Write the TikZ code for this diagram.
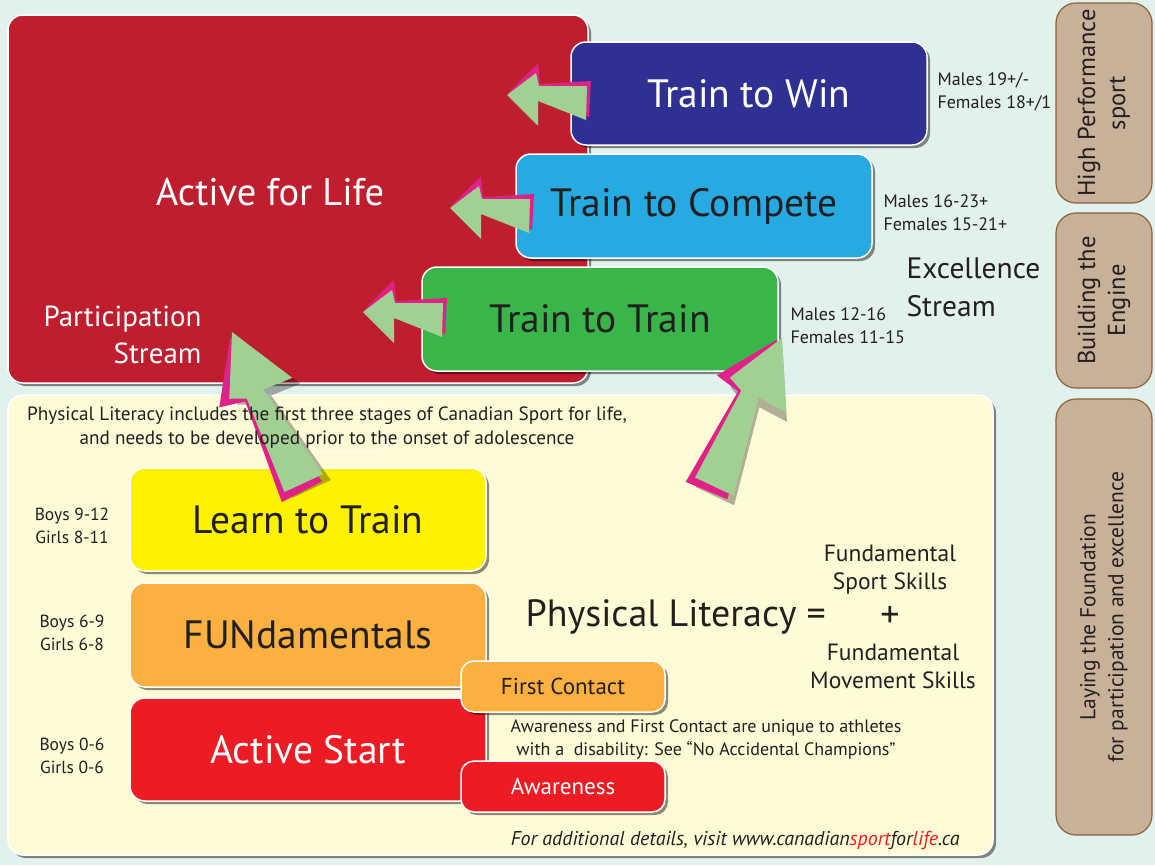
\documentclass[tikz,border=0pt]{standalone}
\usepackage{fontspec}
\setmainfont{PT Sans}
\usetikzlibrary{shadows}

\definecolor{pagebg}{HTML}{E1F1EE}
\definecolor{ink}{HTML}{231F20}
\definecolor{lifered}{HTML}{BE1E2D}
\definecolor{winblue}{HTML}{2E3192}
\definecolor{competeblue}{HTML}{27AAE1}
\definecolor{traingreen}{HTML}{39B54A}
\definecolor{cream}{HTML}{FFFBD6}
\definecolor{learnyellow}{HTML}{FFF200}
\definecolor{fundorange}{HTML}{FBB040}
\definecolor{startred}{HTML}{ED1C24}
\definecolor{tabfill}{HTML}{C7B299}
\definecolor{tabedge}{HTML}{8C6239}
\definecolor{arrowgreen}{HTML}{A0D193}
\definecolor{arrowpink}{HTML}{E0218A}
\definecolor{linkred}{HTML}{ED1C24}

\tikzset{
  boxshadow/.style={drop shadow={shadow xshift=3pt, shadow yshift=-3pt, opacity=0.45, fill=black}},
  panel/.style={draw=white, line width=1.5pt, rounded corners=15pt, inner sep=0pt, boxshadow},
  stagebox/.style={panel, minimum width=356pt, minimum height=103pt,
    font=\fontsize{39.5}{42}\selectfont, text=ink},
  smallbox/.style={panel, rounded corners=13pt, minimum width=204pt, minimum height=51pt,
    font=\fontsize{23}{24}\selectfont, text=ink},
  tab/.style={draw=tabedge, fill=tabfill, line width=1.2pt, rounded corners=20pt,
    minimum width=96pt, inner sep=0pt},
  tabtext/.style={rotate=90, align=center, text=ink, font=\fontsize{24.5}{30}\selectfont},
  agelabel/.style={align=center, text=ink, font=\fontsize{17.5}{23}\selectfont},
  sidelabel/.style={align=left, anchor=west, text=ink, font=\fontsize{18}{23}\selectfont},
  note/.style={align=center, text=ink, font=\fontsize{19.2}{24}\selectfont},
  arrowshadow/.style={fill=none},
  pics/stagearrow/.style={code={
    \fill[arrowshadow] (4,4) -- (33,-18) -- (36,-5) -- (84,-5) -- (83,29) -- (35,10) -- (35,35) -- cycle;
    \fill[arrowpink] (2,-3) -- (31,-32) -- (33,-11) -- (84,-14) -- (82,22) -- (31,2) -- (30,26) -- cycle;
    \fill[arrowgreen] (0,0) -- (29,-22) -- (32,-9) -- (80,-9) -- (79,25) -- (31,6) -- (31,31) -- cycle;
  }},
}

\begin{document}
\begin{tikzpicture}[x=1pt, y=-1pt]
\useasboundingbox (0,0) rectangle (1155,865);
\fill[pagebg] (0,0) rectangle (1155,865);

% ---- upper stages
\node[panel, fill=lifered, minimum width=580pt, minimum height=368pt] (life) at (298,199) {};
\node[text=white, font=\fontsize{38.5}{40}\selectfont] (lifetext) at (270,192) {Active for Life};
\node[anchor=east, align=right, text=white, font=\fontsize{29}{37}\selectfont] (partic) at (205,335) {Participation\\Stream};

\node[stagebox, fill=winblue, text=white] (win) at (749,93.5) {Train to Win};
\node[stagebox, fill=competeblue, minimum height=104pt] (compete) at (694,206) {Train to Compete};
\node[stagebox, fill=traingreen, minimum height=104pt] (train) at (600,319) {Train to Train};

\pic at (507,95) {stagearrow};
\pic at (450,208) {stagearrow};
\pic at (363,312) {stagearrow};

\node[sidelabel] (agewin) at (934,92) {Males 19+/-\\Females 18+/1};
\node[sidelabel] (agecompete) at (880,213) {Males 16-23+\\Females 15-21+};
\node[sidelabel] (agetrain) at (787,326) {Males 12-16\\Females 11-15};
\node[anchor=west, align=left, text=ink, font=\fontsize{29.5}{38}\selectfont] (excel) at (903,287) {Excellence\\Stream};

% ---- side tabs
\node[tab, minimum height=200pt] (tabhigh) at (1104,103) {};
\node[tabtext] at (tabhigh) {High Performance\\sport};
\node[tab, minimum height=175pt] (tabengine) at (1104,300.5) {};
\node[tabtext] at (tabengine) {Building the\\Engine};
\node[tab, minimum height=436pt] (tabfound) at (1104,617) {};
\node[tabtext, font=\fontsize{21.5}{28}\selectfont] at (tabfound) {Laying the Foundation\\for participation and excellence};

% ---- lower stages
\node[panel, fill=cream, minimum width=985pt, minimum height=460pt] (found) at (500.5,625) {};
\draw[white, line width=1pt, rounded corners=12pt] (225,404) rectangle (388,452);

\node[stagebox, fill=learnyellow] (learn) at (308,519.5) {Learn to Train};
\node[stagebox, fill=fundorange, minimum height=104pt] (fund) at (308,635) {FUNdamentals};
\node[stagebox, fill=startred, text=white] (start) at (308,749.5) {Active Start};
\node[smallbox, fill=fundorange] (contact) at (563,686.5) {First Contact};
\node[smallbox, fill=startred, text=white] (aware) at (563,786.5) {Awareness};

\node[agelabel] (agelearn) at (72,525.5) {Boys 9-12\\Girls 8-11};
\node[agelabel] (agefund) at (72,632.5) {Boys 6-9\\Girls 6-8};
\node[agelabel] (agestart) at (72,755.5) {Boys 0-6\\Girls 0-6};

\pic[rotate=-118, xscale=2.05, yscale=-1.25, arrowshadow/.style={fill=black, opacity=0.3}] at (782,338) {stagearrow};
\pic[rotate=-68, xscale=2.1, yscale=-1.25, arrowshadow/.style={fill=black, opacity=0.3}] at (232,332) {stagearrow};

\node[note] (plnote) at (327,428) {Physical Literacy includes the first three stages of Canadian Sport for life,\\and needs to be developed prior to the onset of adolescence};
\node[note, font=\fontsize{18}{23}\selectfont] (disnote) at (706,739) {Awareness and First Contact are unique to athletes\\ with a\ \ disability: See \textquotedblleft No Accidental Champions\textquotedblright};

\node[anchor=west, text=ink, font=\fontsize{38}{40}\selectfont] (pl) at (522,617) {Physical Literacy =};
\node[text=ink, font=\fontsize{38}{40}\selectfont] (plus) at (890,617) {+};
\node[align=center, text=ink, font=\fontsize{23.5}{28}\selectfont] (sport) at (890,569.5) {Fundamental\\Sport Skills};
\node[align=center, text=ink, font=\fontsize{23.5}{28}\selectfont] (move) at (893,666) {Fundamental\\Movement Skills};

\node[anchor=east, text=ink, font=\itshape\fontsize{20}{20}\selectfont] (web) at (963,840) {For additional details, visit www.canadian{\color{linkred}sport}for{\color{linkred}life}.ca};
\end{tikzpicture}
\end{document}
